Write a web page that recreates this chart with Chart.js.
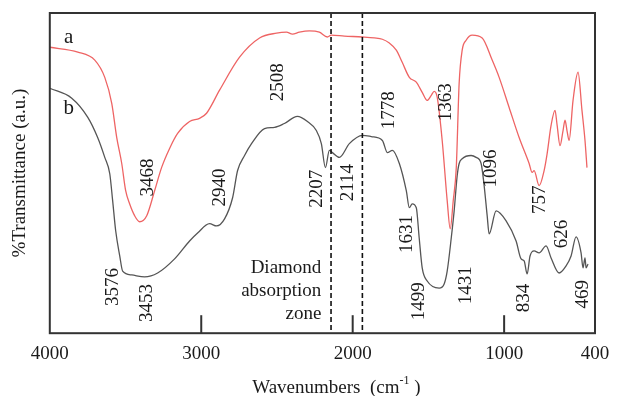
<!DOCTYPE html>
<html>
<head>
<meta charset="utf-8">
<script src="https://cdn.jsdelivr.net/npm/chart.js@4.4.1/dist/chart.umd.min.js"></script>
<style>
  html, body { margin: 0; padding: 0; background: #fff; }
  #wrap { width: 619px; height: 396px; }
</style>
</head>
<body>
<div id="wrap"><canvas id="ftir_chart"></canvas></div>
<script>
// Espectros FTIR: curva a (vermelha) e curva b (cinza)

const wnA = [4000,3815,3703,3637,3591,3558,3525,3499,3473,3440,3407,3360,3308,3262,3209,3156,3077,3011,2965,2879,2747,2615,2503,2437,2398,2352,2286,2220,2167,2141,2055,1936,1857,1804,1758,1712,1673,1626,1580,1541,1508,1481,1462,1442,1409,1376,1356,1336,1316,1297,1277,1251,1211,1145,1079,1033,967,901,835,815,802,769,736,716,690,664,650,631,611,598,585,571,545,512,486,466,453];
const tA = [89.3,87.8,85.3,79.9,71.8,61.1,53.0,44.5,40.4,36.7,34.8,36.7,44.5,51.7,57.7,62.4,66.1,67.1,68.7,75.9,86.2,92.2,93.7,94.0,93.4,94.0,94.4,94.0,92.5,93.1,92.8,92.5,92.2,91.8,90.6,88.4,84.6,79.9,78.4,75.2,72.7,74.3,75.5,73.7,60.2,41.4,32.6,41.4,51.7,78.1,88.4,91.5,93.1,92.2,85.3,79.9,70.5,61.1,53.0,50.2,50.8,46.1,50.8,56.1,64.9,69.6,64.9,58.6,63.3,66.5,63.3,60.2,72.7,81.5,69.6,60.2,51.7];

const wnB = [4000,3855,3749,3684,3637,3604,3585,3565,3538,3519,3459,3374,3288,3176,3077,3024,2945,2899,2846,2793,2760,2714,2668,2582,2516,2451,2365,2299,2240,2207,2180,2154,2134,2088,2022,1936,1877,1804,1771,1738,1692,1646,1626,1607,1580,1561,1541,1508,1429,1396,1376,1349,1330,1310,1297,1277,1218,1185,1152,1132,1112,1099,1053,987,921,888,868,848,829,802,769,723,690,637,591,558,525,492,479,466,459,446];
const tB = [76.5,73.4,67.4,61.1,54.9,49.8,41.4,32.0,24.1,19.4,18.2,17.6,18.8,23.2,28.8,31.3,34.2,33.5,35.7,42.3,50.8,55.5,59.2,63.9,64.3,65.5,67.7,66.1,63.3,59.2,51.7,57.1,56.4,54.9,59.2,61.8,61.4,60.2,56.4,57.1,53.0,44.5,39.2,40.4,39.2,29.8,20.4,16.3,14.1,15.4,19.4,29.8,38.2,49.2,53.0,54.5,55.5,54.9,53.0,46.1,36.7,31.0,38.2,35.1,28.8,23.2,22.6,18.5,24.1,25.7,25.1,27.3,23.5,18.8,21.0,24.1,30.1,25.1,20.4,23.5,20.4,21.6];

const xTicks = [4000, 3000, 2000, 1000, 400];
const innerTicks = [3000, 2000, 1000];
const zoneEdges = [2143, 1936]; // linhas tracejadas da zona do diamante

// Rotulos dos picos (texto + ancora em numero de onda / transmitancia)
const peakLabels = [
    {text: '3468', wn: 3354, t: 48.6},
    {text: '2508', wn: 2490, t: 78.4},
    {text: '2940', wn: 2879, t: 45.5},
    {text: '2207', wn: 2233, t: 45.1},
    {text: '2114', wn: 2029, t: 47.0},
    {text: '1778', wn: 1758, t: 69.6},
    {text: '1363', wn: 1383, t: 72.1},
    {text: '1096', wn: 1086, t: 51.4},
    {text: '757',  wn: 763,  t: 41.7},
    {text: '626',  wn: 618,  t: 31.0},
    {text: '469',  wn: 479,  t: 12.2},
    {text: '834',  wn: 868,  t: 11.0},
    {text: '1431', wn: 1251, t: 15.0},
    {text: '1499', wn: 1561, t: 10.0},
    {text: '1631', wn: 1640, t: 31.0},
    {text: '3576', wn: 3585, t: 14.4},
    {text: '3453', wn: 3360, t: 9.4}
];
const curveNames = [
    {text: 'a', wn: 3875, t: 92.5},
    {text: 'b', wn: 3875, t: 70.2}
];
const zoneText = ['Diamond', 'absorption', 'zone'];
const zoneAnchor = {wn: 2207, t: 20.4};

const serif = '"Liberation Serif", "Times New Roman", serif';
const inkColor = '#1a1a1a';

const extras = {
    id: 'extras',
    afterDatasetsDraw(chart) {
        const {ctx, chartArea: a, scales: {x, y}} = chart;
        ctx.save();

        // linhas tracejadas
        ctx.strokeStyle = '#111';
        ctx.lineWidth = 1.6;
        ctx.setLineDash([5, 3]);
        zoneEdges.forEach(w => {
            const px = x.getPixelForValue(w);
            ctx.beginPath();
            ctx.moveTo(px, a.top);
            ctx.lineTo(px, a.bottom);
            ctx.stroke();
        });
        ctx.setLineDash([]);

        // moldura e marcas internas
        ctx.strokeStyle = '#333';
        ctx.lineWidth = 2;
        ctx.strokeRect(a.left, a.top, a.right - a.left, a.bottom - a.top);
        innerTicks.forEach(w => {
            const px = x.getPixelForValue(w);
            ctx.beginPath();
            ctx.moveTo(px, a.bottom);
            ctx.lineTo(px, a.bottom - 18);
            ctx.stroke();
        });

        // rotulos dos picos (verticais)
        ctx.fillStyle = inkColor;
        ctx.font = '19px ' + serif;
        ctx.textAlign = 'center';
        ctx.textBaseline = 'middle';
        peakLabels.forEach(p => {
            ctx.save();
            ctx.translate(x.getPixelForValue(p.wn), y.getPixelForValue(p.t));
            ctx.rotate(-Math.PI / 2);
            ctx.fillText(p.text, 0, 0);
            ctx.restore();
        });

        ctx.font = '21px ' + serif;
        curveNames.forEach(c => {
            ctx.fillText(c.text, x.getPixelForValue(c.wn), y.getPixelForValue(c.t));
        });

        // texto da zona do diamante
        ctx.font = '19px ' + serif;
        ctx.textAlign = 'right';
        const zx = x.getPixelForValue(zoneAnchor.wn);
        const zy = y.getPixelForValue(zoneAnchor.t);
        zoneText.forEach((s, i) => ctx.fillText(s, zx, zy + i * 23));

        // titulo do eixo x com sobrescrito
        const main = 'Wavenumbers  (cm';
        const sup = '-1';
        const tail = ' )';
        ctx.font = '19px ' + serif;
        const wMain = ctx.measureText(main).width;
        const wTail = ctx.measureText(tail).width;
        ctx.font = '12px ' + serif;
        const wSup = ctx.measureText(sup).width;
        const cx = (a.left + a.right) / 2 + 14;
        const ty = a.bottom + 55;
        let sx = cx - (wMain + wSup + wTail) / 2;
        ctx.textAlign = 'left';
        ctx.font = '19px ' + serif;
        ctx.fillText(main, sx, ty);
        ctx.font = '12px ' + serif;
        ctx.fillText(sup, sx + wMain, ty - 7);
        ctx.font = '19px ' + serif;
        ctx.fillText(tail, sx + wMain + wSup, ty);

        ctx.restore();
    }
};

const ctx1 = document.getElementById('ftir_chart');
new Chart(ctx1, {
    type: 'line',
    data: {
        datasets: [{
            label: 'a',
            data: wnA.map((w, i) => ({x: w, y: tA[i]})),
            borderColor: '#ee6464',
            borderWidth: 1.3,
            pointRadius: 0,
            cubicInterpolationMode: 'monotone'
        }, {
            label: 'b',
            data: wnB.map((w, i) => ({x: w, y: tB[i]})),
            borderColor: '#555555',
            borderWidth: 1.3,
            pointRadius: 0,
            cubicInterpolationMode: 'monotone'
        }]
    },
    options: {
        responsive: true,
        maintainAspectRatio: false,
        animation: false,
        layout: {
            padding: {left: 5, top: 13, right: 24, bottom: 22}
        },
        plugins: {
            legend: {display: false},
            tooltip: {enabled: false}
        },
        scales: {
            x: {
                type: 'linear',
                reverse: true,
                min: 400,
                max: 4000,
                afterBuildTicks: (scale) => {
                    scale.ticks = xTicks.map(v => ({value: v}));
                },
                grid: {display: false, drawTicks: false, tickLength: 0},
                border: {display: false},
                ticks: {
                    autoSkip: false,
                    maxRotation: 0,
                    padding: 9,
                    color: inkColor,
                    font: {family: serif, size: 19},
                    callback: (v) => String(v)
                }
            },
            y: {
                min: 0,
                max: 100,
                grid: {display: false, drawTicks: false, tickLength: 0},
                border: {display: false},
                ticks: {display: false},
                title: {
                    display: true,
                    text: '%Transmittance (a.u.)',
                    color: inkColor,
                    font: {family: serif, size: 19},
                    padding: {top: 4, bottom: 18}
                }
            }
        }
    },
    plugins: [extras]
});
</script>
</body>
</html>
